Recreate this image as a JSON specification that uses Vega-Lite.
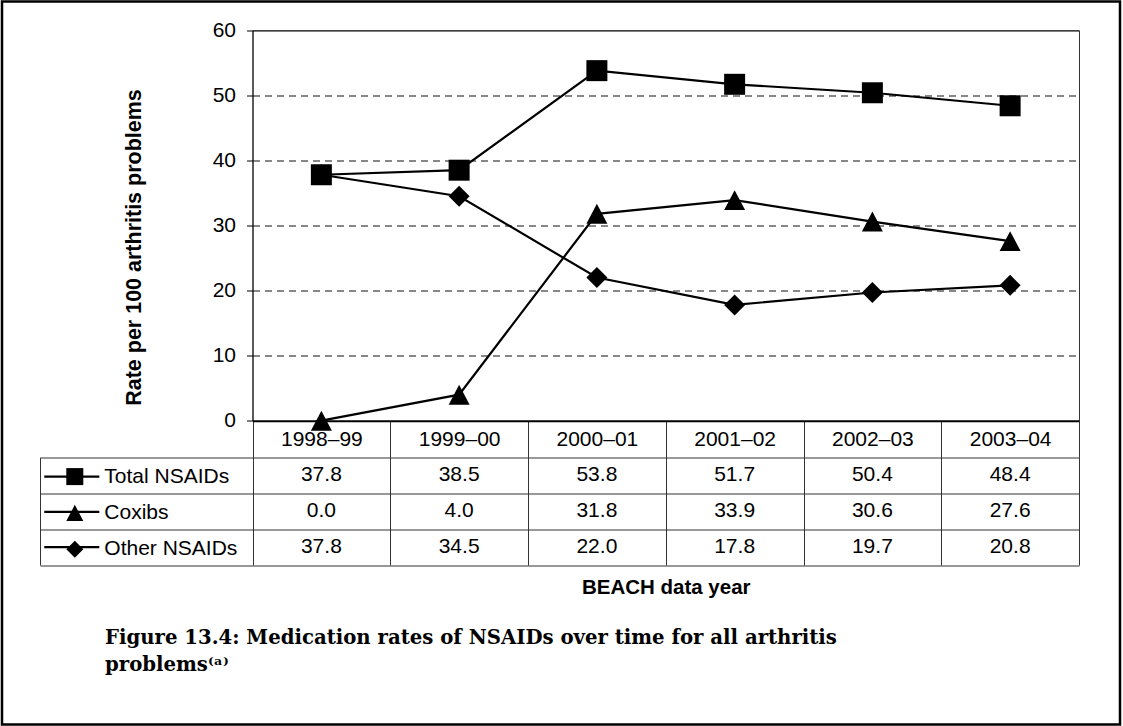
{
  "$schema": "https://vega.github.io/schema/vega-lite/v6.json",
  "width": 1118,
  "height": 723,
  "autosize": "none",
  "padding": {"left": 2, "top": 1.5, "right": 3, "bottom": 1.5},
  "background": "white",
  "title": {
    "text": ["Figure 13.4: Medication rates of NSAIDs over time for all arthritis", "problems⁽ᵃ⁾"],
    "orient": "bottom",
    "anchor": "start",
    "frame": "group",
    "offset": -97,
    "dx": 103,
    "align": "left",
    "baseline": "top",
    "font": "DejaVu Serif",
    "fontSize": 19.7,
    "fontWeight": "bold",
    "color": "black",
    "lineHeight": 27
  },
  "config": {
    "view": {"stroke": "black", "strokeWidth": 2.5},
    "font": "Liberation Sans",
    "axis": {
      "labelFont": "Liberation Sans",
      "titleFont": "Liberation Sans",
      "labelColor": "black",
      "titleColor": "black",
      "domainColor": "black",
      "tickColor": "black",
      "gridColor": "#333333"
    }
  },
  "datasets": {
    "rates": [
      {"year": "1998–99", "series": "Total NSAIDs", "value": 37.8},
      {"year": "1998–99", "series": "Coxibs", "value": 0.0},
      {"year": "1998–99", "series": "Other NSAIDs", "value": 37.8},
      {"year": "1999–00", "series": "Total NSAIDs", "value": 38.5},
      {"year": "1999–00", "series": "Coxibs", "value": 4.0},
      {"year": "1999–00", "series": "Other NSAIDs", "value": 34.5},
      {"year": "2000–01", "series": "Total NSAIDs", "value": 53.8},
      {"year": "2000–01", "series": "Coxibs", "value": 31.8},
      {"year": "2000–01", "series": "Other NSAIDs", "value": 22.0},
      {"year": "2001–02", "series": "Total NSAIDs", "value": 51.7},
      {"year": "2001–02", "series": "Coxibs", "value": 33.9},
      {"year": "2001–02", "series": "Other NSAIDs", "value": 17.8},
      {"year": "2002–03", "series": "Total NSAIDs", "value": 50.4},
      {"year": "2002–03", "series": "Coxibs", "value": 30.6},
      {"year": "2002–03", "series": "Other NSAIDs", "value": 19.7},
      {"year": "2003–04", "series": "Total NSAIDs", "value": 48.4},
      {"year": "2003–04", "series": "Coxibs", "value": 27.6},
      {"year": "2003–04", "series": "Other NSAIDs", "value": 20.8}
    ]
  },
  "data": {"name": "rates"},
  "layer": [
    {
      "layer": [
        {
          "mark": {"type": "line", "strokeWidth": 2.2},
          "encoding": {
            "x": {
              "field": "year", "type": "ordinal",
              "sort": ["1998–99", "1999–00", "2000–01", "2001–02", "2002–03", "2003–04"],
              "scale": {"type": "band", "range": [250.5, 1077], "paddingInner": 0, "paddingOuter": 0},
              "axis": {
                "orient": "bottom", "offset": -303.8,
                "domain": true, "domainColor": "black", "domainWidth": 2,
                "ticks": true, "tickBand": "extent", "tickSize": 36.6, "tickColor": "#333333", "tickWidth": 1,
                "labels": true, "labelFontSize": 21, "labelPadding": -18.3, "labelBaseline": "middle", "labelAngle": 0, "labelOverlap": false,
                "grid": false,
                "title": "BEACH data year", "titleFontSize": 20.5, "titleFontWeight": "bold",
                "titleY": 167, "titleBaseline": "middle"
              }
            },
            "y": {
              "field": "value", "type": "quantitative",
              "scale": {"domain": [0, 60], "range": [419.2, 28.8], "nice": false},
              "axis": {
                "orient": "left", "offset": -250.5,
                "values": [0, 10, 20, 30, 40, 50, 60],
                "domain": true, "domainColor": "black", "domainWidth": 1.3,
                "ticks": true, "tickSize": 6, "tickColor": "black",
                "labels": true, "labelFontSize": 21, "labelPadding": 11,
                "grid": true, "gridDash": [7, 5], "gridColor": "#111111", "gridWidth": 1,
                "gridOpacity": {"condition": {"test": "datum.value === 0 || datum.value === 60", "value": 0}, "value": 1},
                "title": "Rate per 100 arthritis problems", "titleFontSize": 21.5, "titleFontWeight": "bold",
                "titleAngle": -90, "titleBaseline": "bottom", "titleX": -107, "titleY": 245.5
              }
            },
            "stroke": {
              "field": "series", "type": "nominal",
              "sort": ["Total NSAIDs", "Coxibs", "Other NSAIDs"],
              "scale": {"range": ["black", "black", "black"]},
              "legend": {
                "orient": "none", "legendX": 59.3, "legendY": 464.6,
                "title": null, "direction": "vertical", "padding": 0,
                "symbolType": "M-3.06,0L3.06,0", "symbolSize": 324, "symbolStrokeWidth": 2.2, "symbolStrokeColor": "black",
                "labelExpr": "''", "labelFontSize": 21, "labelOffset": 0,
                "rowPadding": 13.3
              }
            }
          }
        },
        {
          "mark": {"type": "point", "filled": true, "color": "black", "opacity": 1, "size": 441},
          "encoding": {
            "x": {
              "field": "year", "type": "ordinal",
              "sort": ["1998–99", "1999–00", "2000–01", "2001–02", "2002–03", "2003–04"],
              "scale": {"type": "band", "range": [250.5, 1077], "paddingInner": 0, "paddingOuter": 0},
              "axis": null
            },
            "y": {
              "field": "value", "type": "quantitative",
              "scale": {"domain": [0, 60], "range": [419.2, 28.8], "nice": false},
              "axis": null
            },
            "shape": {
              "field": "series", "type": "nominal",
              "sort": ["Total NSAIDs", "Coxibs", "Other NSAIDs"],
              "scale": {
                "domain": ["Total NSAIDs", "Coxibs", "Other NSAIDs"],
                "range": [
                  "M-1,-1L1,-1L1,1L-1,1Z",
                  "M0,-0.95L1,0.95L-1,0.95Z",
                  "M0,-1L1,0L0,1L-1,0Z"
                ]
              },
              "legend": {
                "orient": "none", "legendX": 62.3, "legendY": 464.6,
                "title": null, "direction": "vertical", "padding": 0,
                "symbolSize": 289, "symbolFillColor": "black", "symbolOpacity": 1,
                "labelFont": "Liberation Sans", "labelFontSize": 21, "labelColor": "black", "labelOffset": 19, "labelLimit": 400,
                "rowPadding": 13.3
              }
            }
          }
        },
        {
          "mark": {"type": "point", "opacity": 0},
          "encoding": {
            "x": {
              "field": "year", "type": "ordinal",
              "sort": ["1998–99", "1999–00", "2000–01", "2001–02", "2002–03", "2003–04"],
              "scale": {"type": "band", "range": [250.5, 1077], "paddingInner": 0, "paddingOuter": 0},
              "axis": {"orient": "top", "offset": -28.8, "domain": true, "domainColor": "black", "domainWidth": 1.3, "ticks": false, "labels": false, "grid": false, "title": null}
            },
            "y": {
              "field": "value", "type": "quantitative",
              "scale": {"domain": [0, 60], "range": [419.2, 28.8], "nice": false},
              "axis": {"orient": "right", "offset": -41, "domain": true, "domainColor": "#333333", "domainWidth": 1, "ticks": false, "labels": false, "grid": false, "title": null}
            }
          }
        }
      ],
      "resolve": {"axis": {"x": "independent", "y": "independent"}}
    },
    {
      "layer": [
        {
          "mark": {"type": "text", "font": "Liberation Sans", "fontSize": 21, "color": "black", "baseline": "middle", "align": "center"},
          "encoding": {
            "x": {
              "field": "year", "type": "ordinal",
              "sort": ["1998–99", "1999–00", "2000–01", "2001–02", "2002–03", "2003–04"],
              "scale": {"type": "band", "range": [250.5, 1077], "paddingInner": 0, "paddingOuter": 0},
              "axis": {"orient": "top", "domain": false, "ticks": false, "labels": false, "grid": true, "tickBand": "extent", "gridColor": "#333333", "gridWidth": 1, "title": null}
            },
            "y": {
              "field": "series", "type": "nominal",
              "sort": ["Total NSAIDs", "Coxibs", "Other NSAIDs"],
              "scale": {"type": "band", "range": [455.8, 563.5], "paddingInner": 0, "paddingOuter": 0},
              "axis": {"orient": "left", "offset": -250.5, "domain": false, "ticks": true, "tickBand": "extent", "tickSize": 212.5, "tickColor": "#333333", "tickWidth": 1, "labels": false, "grid": true, "gridColor": "#333333", "gridWidth": 1, "title": null}
            },
            "text": {"field": "value", "type": "quantitative", "format": ".1f"}
          }
        },
        {
          "mark": {"type": "text", "opacity": 0},
          "encoding": {
            "y": {
              "field": "series", "type": "nominal",
              "sort": ["Total NSAIDs", "Coxibs", "Other NSAIDs"],
              "scale": {"type": "band", "range": [455.8, 563.5], "paddingInner": 0, "paddingOuter": 0},
              "axis": {"orient": "left", "offset": -38, "domain": true, "domainColor": "#333333", "domainWidth": 1, "ticks": false, "labels": false, "grid": false, "title": null}
            }
          }
        }
      ],
      "resolve": {"axis": {"x": "independent", "y": "independent"}}
    }
  ],
  "resolve": {"scale": {"y": "independent"}, "axis": {"x": "independent", "y": "independent"}}
}
